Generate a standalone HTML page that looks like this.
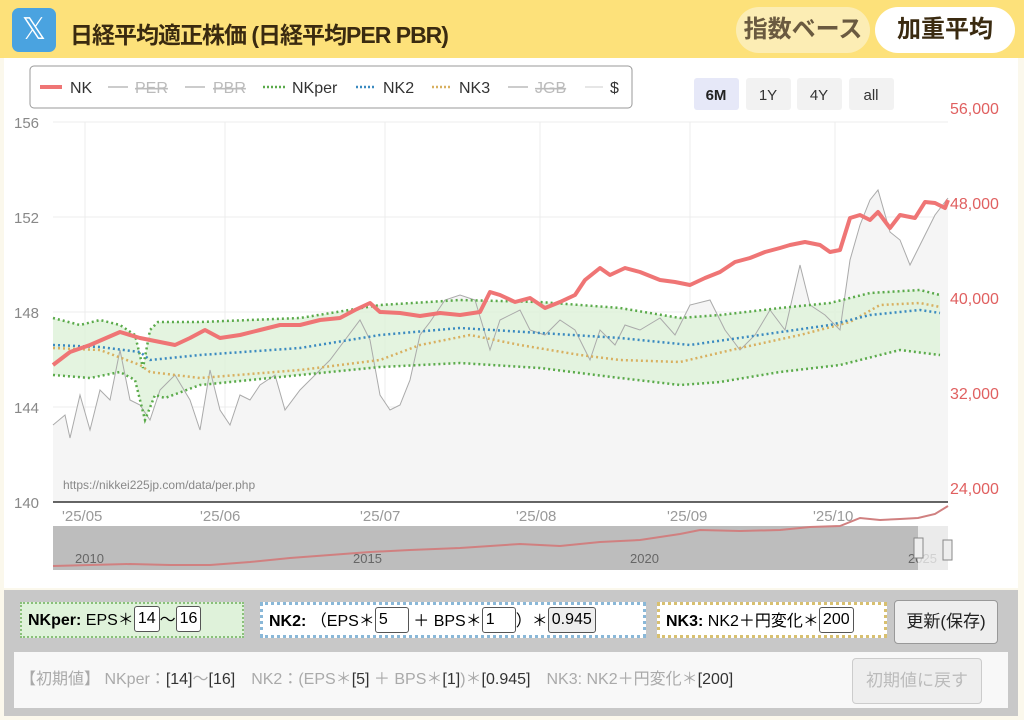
<!DOCTYPE html>
<html><head><meta charset="utf-8"><style>
*{box-sizing:border-box;margin:0;padding:0}
body{width:1024px;height:720px;background:#fbf8ec;font-family:"Liberation Sans","Noto Sans CJK JP",sans-serif;position:relative;overflow:hidden}
.hdr{position:absolute;left:0;top:0;width:1024px;height:58px;background:#fde17a}
.xic{position:absolute;left:12px;top:8px;width:44px;height:44px;border-radius:7px;background:#4aa3e0;color:#fff;font-size:30px;text-align:center;line-height:44px}
.ttl{position:absolute;left:70px;top:16px;font-size:23px;font-weight:bold;color:#3a2a10;letter-spacing:-1px}
.b1{position:absolute;left:736px;top:7px;width:134px;height:46px;border-radius:23px;background:#fcedb4;color:#6a5a40;font-size:24px;font-weight:bold;line-height:46px;text-align:center}
.b2{position:absolute;left:875px;top:7px;width:140px;height:46px;border-radius:23px;background:#fff;color:#3a2a10;font-size:24px;font-weight:bold;line-height:46px;text-align:center}
.chart{position:absolute;left:4px;top:58px;width:1014px;height:530px;background:#fff}
.pn{position:absolute;left:4px;top:590px;width:1014px;height:126px;background:#c8c8c8}
.box{position:absolute;top:12px;height:36px;font-size:16px;line-height:34px;padding-left:6px;white-space:nowrap}
.inp{display:inline-block;background:#fff;border:1px solid #555;border-radius:3px;height:26px;line-height:24px;padding:0 3px;vertical-align:middle;margin-top:-3px}
.btn{position:absolute;border:1px solid #999;border-radius:4px;background:#eee;text-align:center}
</style></head><body>
<div class="hdr"><div class="xic">𝕏</div><div class="ttl">日経平均適正株価 (日経平均PER PBR)</div><div class="b1">指数ベース</div><div class="b2">加重平均</div></div>
<div class="chart"></div>
<svg style="position:absolute;left:0;top:0" width="1024" height="590" font-family="Liberation Sans, sans-serif">
<g stroke="#ececec" stroke-width="1">
<line x1="53" y1="122" x2="948" y2="122"/><line x1="53" y1="217" x2="948" y2="217"/><line x1="53" y1="312" x2="948" y2="312"/><line x1="53" y1="407" x2="948" y2="407"/>
<line x1="85" y1="122" x2="85" y2="502"/><line x1="225" y1="122" x2="225" y2="502"/><line x1="385" y1="122" x2="385" y2="502"/><line x1="540" y1="122" x2="540" y2="502"/><line x1="690" y1="122" x2="690" y2="502"/><line x1="835" y1="122" x2="835" y2="502"/>
</g>
<g font-size="15" fill="#888"><text x="14" y="128">156</text><text x="14" y="223">152</text><text x="14" y="318">148</text><text x="14" y="413">144</text><text x="14" y="508">140</text></g>
<g font-size="16" fill="#e06060"><text x="950" y="114">56,000</text><text x="950" y="209">48,000</text><text x="950" y="304">40,000</text><text x="950" y="399">32,000</text><text x="950" y="494">24,000</text></g>
<g font-size="15" fill="#999"><text x="62" y="521">'25/05</text><text x="200" y="521">'25/06</text><text x="360" y="521">'25/07</text><text x="516" y="521">'25/08</text><text x="667" y="521">'25/09</text><text x="813" y="521">'25/10</text></g>
<polygon fill="#f5f5f5" points="53,425 65,415 70,438 80,395 90,430 100,390 110,400 120,350 130,400 140,405 150,420 160,390 175,375 190,400 200,430 210,370 220,410 230,425 240,395 250,400 260,385 275,375 285,410 300,390 315,375 330,360 345,340 360,320 370,340 380,395 390,410 400,405 410,380 420,335 430,322 445,300 460,295 475,300 490,350 500,320 520,310 530,330 545,335 560,320 575,330 590,360 600,330 615,345 625,325 640,330 660,318 675,335 690,305 710,300 725,330 740,350 755,335 770,310 785,330 800,265 810,305 825,315 840,330 850,260 860,225 870,200 878,190 890,232 900,240 910,265 920,245 935,215 948,198 948,502 53,502"/>
<polygon fill="#dff2da" opacity="0.85" points="53,318 80,325 100,320 120,325 135,335 143,368 150,330 158,322 200,322 300,318 380,305 460,300 540,302 620,308 680,318 720,315 780,308 830,303 870,293 920,290 940,295 940,355 900,350 840,365 780,372 720,382 680,385 620,378 540,368 460,363 380,367 300,375 200,385 165,398 155,395 145,420 135,380 120,372 90,378 53,375"/>
<polyline fill="none" stroke="#aaa" stroke-width="1" points="53,425 65,415 70,438 80,395 90,430 100,390 110,400 120,350 130,400 140,405 150,420 160,390 175,375 190,400 200,430 210,370 220,410 230,425 240,395 250,400 260,385 275,375 285,410 300,390 315,375 330,360 345,340 360,320 370,340 380,395 390,410 400,405 410,380 420,335 430,322 445,300 460,295 475,300 490,350 500,320 520,310 530,330 545,335 560,320 575,330 590,360 600,330 615,345 625,325 640,330 660,318 675,335 690,305 710,300 725,330 740,350 755,335 770,310 785,330 800,265 810,305 825,315 840,330 850,260 860,225 870,200 878,190 890,232 900,240 910,265 920,245 935,215 948,198"/>
<g fill="none" stroke-width="2.5" stroke-dasharray="2 3">
<polyline stroke="#5aaa4a" points="53,318 80,325 100,320 120,325 135,335 143,368 150,330 158,322 200,322 300,318 380,305 460,300 540,302 620,308 680,318 720,315 780,308 830,303 870,293 920,290 940,295"/>
<polyline stroke="#5aaa4a" points="53,375 90,378 120,372 135,380 145,420 155,395 165,398 200,385 300,375 380,367 460,363 540,368 620,378 680,385 720,382 780,372 840,365 900,350 940,355"/>
<polyline stroke="#d8b060" points="53,348 100,350 140,365 150,372 200,378 300,370 380,360 420,345 470,335 520,345 580,355 620,360 680,362 740,348 800,335 850,322 880,305 920,303 940,307"/>
<polyline stroke="#3a8ac0" points="53,345 100,347 140,352 150,360 200,355 300,348 380,335 460,328 540,333 620,338 690,345 760,335 830,325 870,315 920,310 940,313"/>
</g>
<polyline fill="none" stroke="#ef7575" stroke-width="4" stroke-linejoin="round" points="53,365 70,352 90,345 120,332 140,338 160,342 175,345 190,338 205,330 220,338 240,335 260,330 280,325 300,325 320,320 340,318 355,310 370,303 380,312 400,313 420,316 440,313 460,315 480,312 490,292 500,295 515,302 530,298 545,308 560,302 575,295 585,280 600,268 610,275 625,268 640,272 660,280 675,282 690,285 705,278 720,272 735,262 750,258 765,252 780,248 790,245 805,242 820,245 830,252 840,250 850,218 860,215 870,220 878,212 890,228 900,215 915,218 925,202 935,203 945,208 948,200"/>
<line x1="53" y1="502" x2="948" y2="502" stroke="#333" stroke-width="1.5"/>
<text x="63" y="489" font-size="12" fill="#888">https://nikkei225jp.com/data/per.php</text>
<rect x="53" y="526" width="895" height="44" fill="#bdbdbd"/>
<polyline fill="none" stroke="#d08080" stroke-width="2" points="53,566 90,565 130,564 170,565 210,565 250,562 290,558 330,555 370,552 410,550 460,548 520,544 560,546 600,542 640,540 680,534 700,530 740,531 780,530 810,527 840,526 860,518 880,520 900,519 918,518 935,514 948,506"/>
<g font-size="13" fill="#666"><text x="75" y="563">2010</text><text x="353" y="563">2015</text><text x="630" y="563">2020</text><text x="908" y="563">2025</text></g>
<rect x="918" y="526" width="30" height="44" fill="#fff" opacity="0.7"/>
<rect x="914" y="538" width="9" height="20" fill="#eee" stroke="#888"/><rect x="943" y="540" width="9" height="20" fill="#eee" stroke="#888"/>
<rect x="30" y="66" width="602" height="42" rx="4" fill="#fff" stroke="#999"/>
<g font-size="16">
<line x1="40" y1="87" x2="62" y2="87" stroke="#ef7575" stroke-width="4"/><text x="70" y="93" fill="#333">NK</text>
<line x1="108" y1="87" x2="128" y2="87" stroke="#ccc" stroke-width="2"/><text x="135" y="93" fill="#bbb" text-decoration="line-through">PER</text>
<line x1="185" y1="87" x2="205" y2="87" stroke="#ccc" stroke-width="2"/><text x="213" y="93" fill="#bbb" text-decoration="line-through">PBR</text>
<line x1="263" y1="87" x2="285" y2="87" stroke="#5aaa4a" stroke-width="2.5" stroke-dasharray="2 2"/><text x="292" y="93" fill="#333">NKper</text>
<line x1="356" y1="87" x2="376" y2="87" stroke="#3a8ac0" stroke-width="2.5" stroke-dasharray="2 2"/><text x="383" y="93" fill="#333">NK2</text>
<line x1="432" y1="87" x2="452" y2="87" stroke="#d8b060" stroke-width="2.5" stroke-dasharray="2 2"/><text x="459" y="93" fill="#333">NK3</text>
<line x1="508" y1="87" x2="528" y2="87" stroke="#ccc" stroke-width="2"/><text x="535" y="93" fill="#bbb" text-decoration="line-through">JGB</text>
<line x1="585" y1="87" x2="603" y2="87" stroke="#ccc" stroke-width="1"/><text x="610" y="93" fill="#333">$</text>
</g>
<rect x="694" y="78" width="45" height="32" rx="3" fill="#e6e8f8"/><text x="716" y="100" font-size="15" font-weight="bold" text-anchor="middle" fill="#222">6M</text>
<rect x="746" y="78" width="45" height="32" rx="3" fill="#f2f2f2"/><text x="768" y="100" font-size="15" text-anchor="middle" fill="#333">1Y</text>
<rect x="797" y="78" width="45" height="32" rx="3" fill="#f2f2f2"/><text x="819" y="100" font-size="15" text-anchor="middle" fill="#333">4Y</text>
<rect x="849" y="78" width="45" height="32" rx="3" fill="#f2f2f2"/><text x="871" y="100" font-size="15" text-anchor="middle" fill="#333">all</text>
</svg>
<div class="pn">
<div class="box" style="left:16px;width:224px;background:#dff2da;border:2px dotted #8ac07a"><b>NKper:</b> EPS＊<span class="inp">14</span>～<span class="inp">16</span></div>
<div class="box" style="left:256px;width:386px;background:#fff;border:3px dotted #8ab8d8"><b>NK2:</b> （EPS＊<span class="inp" style="width:34px">5</span> ＋ BPS＊<span class="inp" style="width:34px">1</span>）＊<span class="inp" style="background:#eee">0.945</span></div>
<div class="box" style="left:653px;width:230px;background:#fff;border:3px dotted #d8c070"><b>NK3:</b> NK2＋円変化＊<span class="inp">200</span></div>
<div class="btn" style="left:890px;top:10px;width:104px;height:44px;line-height:42px;font-size:17px;color:#222">更新(保存)</div>
<div style="position:absolute;left:10px;top:62px;width:994px;height:56px;background:#f8f8f8;font-size:16px;color:#aaa;line-height:56px;padding-left:6px;white-space:nowrap">【初期値】 NKper：<span style="color:#333">[14]</span>～<span style="color:#333">[16]</span>　NK2：(EPS＊<span style="color:#333">[5]</span> ＋ BPS＊<span style="color:#333">[1]</span>)＊<span style="color:#333">[0.945]</span>　NK3: NK2＋円変化＊<span style="color:#333">[200]</span></div>
<div class="btn" style="left:848px;top:68px;width:130px;height:46px;line-height:44px;font-size:17px;color:#bbb;border-color:#ccc;background:#eee">初期値に戻す</div>
</div>
</body></html>
